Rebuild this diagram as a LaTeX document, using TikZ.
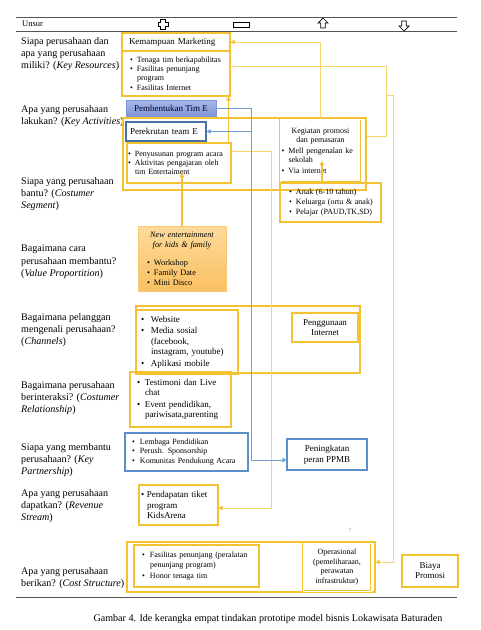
\documentclass[tikz,border=0pt]{standalone}
\usepackage{fontspec}
\setmainfont{Liberation Serif}
\usepackage{xcolor}
\usetikzlibrary{positioning, calc, arrows.meta}
\definecolor{gold}{HTML}{F2C230}
\definecolor{goldl}{HTML}{F6D56E}
\definecolor{blueln}{HTML}{6F9FD3}
\definecolor{bluebx}{HTML}{5B8FC9}
\definecolor{ptop}{HTML}{A7B8E8}
\definecolor{pbot}{HTML}{8096D6}
\definecolor{otop}{HTML}{FDDA9C}
\definecolor{obot}{HTML}{F9C062}
\definecolor{rulec}{HTML}{555555}
\newcommand{\itm}[2][7pt]{\mbox{\makebox[#1][l]{\textbullet}#2}}
\newcommand{\itc}[2][7pt]{\mbox{\hspace*{#1}#2}}

\begin{document}
\begin{tikzpicture}[x=1pt,y=-1pt]
	\tikzstyle{lab}=[anchor=north west, inner sep=0pt, align=left, font=\fontsize{10.1}{12.3}\selectfont]
	\tikzstyle{ybox}=[draw=gold, line width=1.1pt, inner xsep=4pt, inner ysep=0pt, align=left, font=\fontsize{8}{9.4}\selectfont]
	\tikzstyle{bbox}=[ybox, draw=bluebx]
	\tikzstyle{ptbox}=[top color=ptop, bottom color=pbot, draw=pbot, line width=0.5pt, inner sep=0pt, text=black!85!blue, font=\fontsize{9}{10}\selectfont]
	\tikzstyle{vpbox}=[top color=otop, bottom color=obot, draw=obot!70!otop, line width=0.5pt, inner ysep=0pt, align=left, font=\fontsize{8.3}{10}\selectfont]
	\tikzstyle{icon}=[draw=black, line width=0.7pt, line join=miter]
	\tikzstyle{yline}=[draw=goldl, line width=0.7pt]
	\tikzstyle{yarr}=[draw=goldl, line width=0.8pt, -{Triangle[length=4pt,width=4.5pt,color=gold]}]
	\tikzstyle{barr}=[draw=blueln, line width=0.9pt, -{Triangle[length=4pt,width=4.5pt]}]
	\useasboundingbox (0,0) rectangle (480,630);

	\draw[rulec, line width=0.7pt] (16,17) -- (457,17);
	\draw[rulec, line width=0.7pt] (16,31) -- (457,31);
	\draw[rulec, line width=0.7pt] (16,597) -- (457,597);

	\node[anchor=west, inner sep=0pt, font=\fontsize{8.5}{10}\selectfont] (un) at (22,24) {Unsur};
	\draw[icon, shift={(163,24.5)}] (-2.3,-5) -- (2.3,-5) -- (2.3,-2.3) -- (5,-2.3) -- (5,2.3) -- (2.3,2.3) -- (2.3,5) -- (-2.3,5) -- (-2.3,2.3) -- (-5,2.3) -- (-5,-2.3) -- (-2.3,-2.3) -- cycle;
	\draw[icon] (233,22) rectangle (249,27);
	\draw[icon, shift={(323,23)}] (0,-5) -- (5,0) -- (2.3,0) -- (2.3,5) -- (-2.3,5) -- (-2.3,0) -- (-5,0) -- cycle;
	\draw[icon, shift={(404,26)}] (0,5) -- (5,0) -- (2.3,0) -- (2.3,-5) -- (-2.3,-5) -- (-2.3,0) -- (-5,0) -- cycle;

	\node[lab] (l1) at (21,37) {Siapa perusahaan dan\\apa yang perusahaan\\miliki? (\textit{Key Resources})};
	\node[lab] (l2) at (21,105) {Apa yang perusahaan\\lakukan? (\textit{Key Activities})};
	\node[lab] (l3) at (21,177) {Siapa yang perusahaan\\bantu? (\textit{Costumer}\\\textit{Segment})};
	\node[lab] (l4) at (21,245) {Bagaimana cara\\perusahaan membantu?\\(\textit{Value Proportition})};
	\node[lab] (l5) at (21,313) {Bagaimana pelanggan\\mengenali perusahaan?\\(\textit{Channels})};
	\node[lab] (l6) at (21,381) {Bagaimana perusahaan\\berinteraksi? (\textit{Costumer}\\\textit{Relationship})};
	\node[lab] (l7) at (21,443) {Siapa yang membantu\\perusahaan? (\textit{Key}\\\textit{Partnership})};
	\node[lab] (l8) at (21,489) {Apa yang perusahaan\\dapatkan? (\textit{Revenue}\\\textit{Stream})};
	\node[lab] (l9) at (21,567) {Apa yang perusahaan\\berikan? (\textit{Cost Structure})};

	\node[ybox, minimum width=108, minimum height=18, inner xsep=7, text width=94, font=\fontsize{9}{10}\selectfont] (krh) at (176,42) {Kemampuan Marketing};
	\node[ybox, minimum width=108, minimum height=45, inner xsep=8, text width=92] (kr) at (176,73.5) {\itm{Tenaga tim berkapabilitas}\\\itm{Fasilitas penunjang}\\\itc{program}\\\itm{Fasilitas Internet}};
	\node[ptbox, minimum width=90, minimum height=16] (pt) at (171,108) {Pembentukan Tim E};
	\node[ybox, minimum width=243, minimum height=72] (ka) at (244.5,154) {};
	\node[bbox, draw=bluebx!80!black, line width=1.3pt, minimum width=80, minimum height=19, inner xsep=4, text width=72, font=\fontsize{9}{10}\selectfont] (pk) at (166,131.5) {Perekrutan team E};
	\node[ybox, minimum width=104, minimum height=40, inner xsep=1, text width=102] (pn) at (179,163) {\itm{Penyusunan program acara}\\\itm{Aktivitas pengajaran oleh}\\\itc{tim Entertaiment}};
	\node[ybox, double=white, double distance=1pt, line width=0.8pt, minimum width=81, minimum height=63, inner xsep=1.5, text width=78] (kg) at (320.5,150.5) {\makebox[78pt]{Kegiatan promosi}\\\makebox[78pt]{dan pemasaran}\\[1.5pt]\itm{Mell pengenalan ke}\\\itc{sekolah}\\[1pt]\itm{Via internet}};
	\node[ybox, minimum width=101, minimum height=39, inner xsep=9, text width=83, font=\fontsize{8}{10}\selectfont] (sg) at (330.5,202.5) {\itm{Anak (6-10 tahun)}\\\itm{Keluarga (ortu \& anak)}\\\itm{Pelajar (PAUD,TK,SD)}};
	\node[vpbox, minimum width=88, minimum height=65, inner xsep=9, text width=70] (vp) at (182,258.5) {\makebox[70pt]{\textit{New entertainment}}\\\makebox[70pt]{\textit{for kids \& family}}\\[8pt]\itm{Workshop}\\\itm{Family Date}\\\itm{Mini Disco}};

	\node[ybox, minimum width=224, minimum height=67] (ch) at (248,339.5) {};
	\node[ybox, minimum width=102, minimum height=64, inner xsep=5, text width=92, font=\fontsize{9}{10.5}\selectfont] (cl) at (187,342) {\itm[10pt]{Website}\\[1.3pt]\itm[10pt]{Media sosial}\\\itc[10pt]{(facebook,}\\\itc[10pt]{instagram, youtube)}\\[1pt]\itm[10pt]{Aplikasi mobile}};
	\node[ybox, minimum width=66, minimum height=29, align=center, font=\fontsize{9}{10}\selectfont] (pi) at (325,327.5) {Penggunaan\\Internet};
	\node[ybox, minimum width=101, minimum height=55, inner xsep=7, text width=87, font=\fontsize{9}{10.5}\selectfont] (cr) at (180.5,399.5) {\itm[8pt]{Testimoni dan Live}\\\itc[8pt]{chat}\\[1pt]\itm[8pt]{Event pendidikan,}\\\itc[8pt]{pariwisata,parenting}};
	\node[bbox, minimum width=123, minimum height=38, inner xsep=7, text width=109] (kp) at (186.5,452) {\itm[8pt]{Lembaga Pendidikan}\\\itm[8pt]{Perush. Sponsorship}\\\itm[8pt]{Komunitas Pendukung Acara}};
	\node[bbox, minimum width=80, minimum height=31, align=center, font=\fontsize{9}{11}\selectfont] (pp) at (327,454.5) {Peningkatan\\peran PPMB};
	\node[ybox, minimum width=79, minimum height=40, inner xsep=2, text width=75, font=\fontsize{9}{10.5}\selectfont] (rv) at (178.5,505) {\itm[6pt]{Pendapatan tiket}\\\itc[6pt]{program}\\\itc[6pt]{KidsArena}};
	\node[inner sep=0pt, text=gray, font=\fontsize{5.5}{6}\selectfont] (pg) at (350,531) {7};

	\node[ybox, minimum width=248, minimum height=50] (cs) at (251,567) {};
	\node[ybox, minimum width=125, minimum height=42, inner xsep=8, text width=109] (cf) at (196.5,566) {\itm[8pt]{Fasilitas penunjang (peralatan}\\\itc[8pt]{penunjang program)}\\[1.5pt]\itm[8pt]{Honor tenaga tim}};
	\node[ybox, double=white, double distance=1pt, line width=0.8pt, minimum width=68, minimum height=48, align=center, font=\fontsize{8}{9.7}\selectfont] (op) at (337,567) {Operasional\\(pemeliharaan,\\perawatan\\infrastruktur)};
	\node[ybox, minimum width=56, minimum height=32, align=center, font=\fontsize{9}{10}\selectfont] (bp) at (430,571) {Biaya\\Promosi};

	\node[font=\fontsize{10.1}{12}\selectfont] (cap) at (268,619) {Gambar 4. Ide kerangka empat tindakan prototipe model bisnis Lokawisata Baturaden};

	\coordinate (r0) at (386,95);
	\coordinate (r1) at (386,136);
	\coordinate (r2) at (393,95);
	\coordinate (b2) at (251,460);
	\coordinate (y3) at (271,508);
	\coordinate (pnin) at (182,173);
	\coordinate (kgin) at (322,161);

	\draw[yarr] (kg.north) |- (krh.east);
	\draw[yline] ($(kr.north east)!0.35!(kr.south east)$) -| (r1) -- (r1 -| ka.east);
	\draw[yarr] (r0) -- (r2) |- ($(cs.east)+(0,-5)$);
	\draw[yarr, draw=gold, line width=1.1pt] ($(pn.north east)+(-3,0)$) -- ($(kr.south east)+(-2,0)$);
	\draw[yarr] ($(pn.north east)+(0,9)$) -| (y3) -- (y3 -| rv.east);
	\draw[yarr, draw=gold, line width=1.4pt] (vp.north) -- (pnin);
	\draw[yarr, draw=gold, line width=1.1pt] (kgin |- sg.north) -- (kgin);
	\draw[barr] (pt.east) -| (b2) -- (b2 -| pp.west);
	\draw[barr] (b2 |- pk.east) -- (pk.east);
\end{tikzpicture}
\end{document}
